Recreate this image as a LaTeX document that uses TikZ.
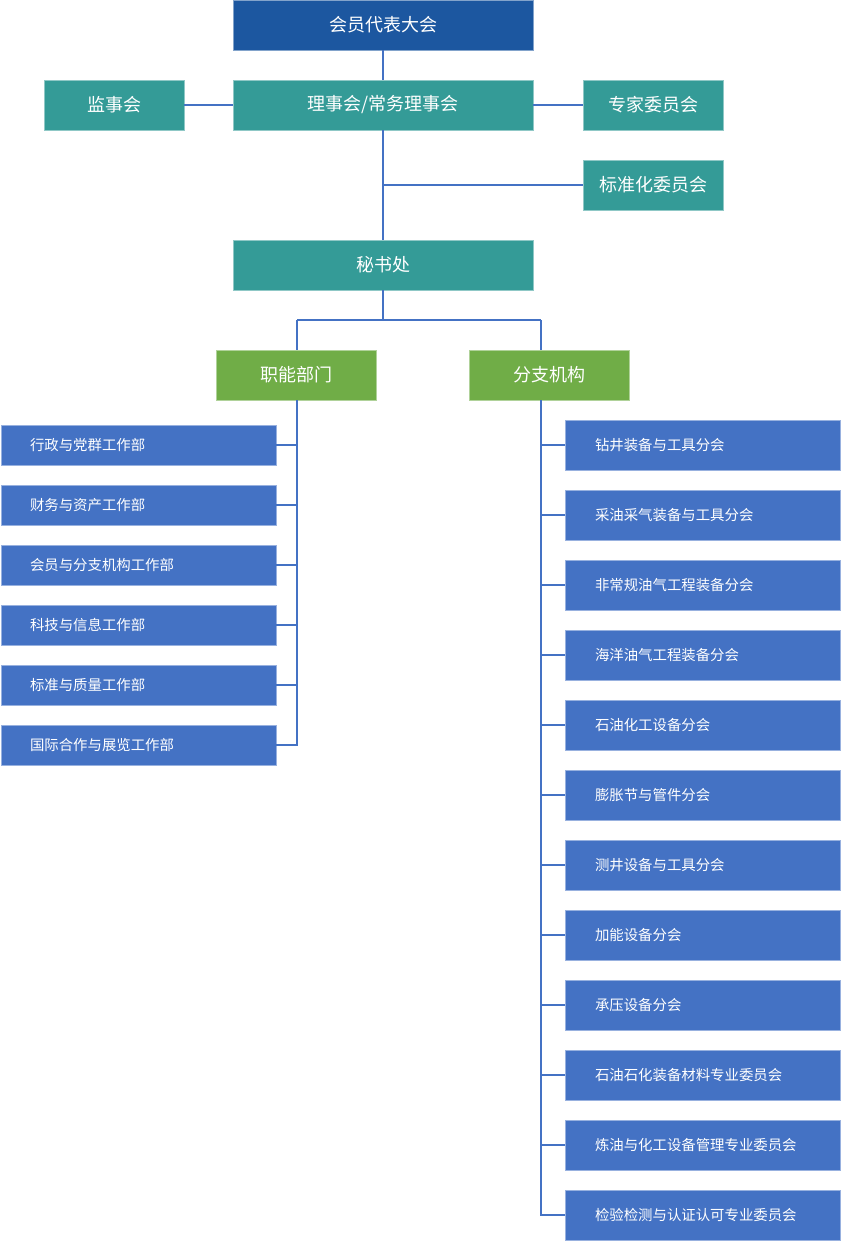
\documentclass[tikz,border=0pt]{standalone}
\usepackage{fontspec}
\setmainfont{Noto Sans CJK SC}
\definecolor{darkblue}{HTML}{1C57A0}
\definecolor{teal2}{HTML}{349B97}
\definecolor{green2}{HTML}{70AD47}
\definecolor{blue2}{HTML}{4472C4}
\tikzset{
  box/.style={draw=#1!55!white, line width=0.8pt, fill=#1, text=white, inner sep=0pt},
  topbox/.style={box=#1, font=\fontsize{18}{21}\selectfont},
  subbox/.style={box=blue2, font=\fontsize{14.4}{17}\selectfont},
  link/.style={draw=blue2, line width=2pt}
}
\begin{document}
\begin{tikzpicture}[x=1pt,y=-1pt]
\useasboundingbox (0,0) rectangle (840,1241);
% top level
\node[topbox=darkblue, minimum width=300pt, minimum height=50pt] (gm) at (383,25) {会员代表大会};
\node[topbox=teal2, minimum width=300pt, minimum height=50pt] (board) at (383,105) {理事会/常务理事会};
\node[topbox=teal2, minimum width=140pt, minimum height=50pt] (sup) at (114,105) {监事会};
\node[topbox=teal2, minimum width=140pt, minimum height=50pt] (exp) at (653,105) {专家委员会};
\node[topbox=teal2, minimum width=140pt, minimum height=50pt] (std) at (653,185) {标准化委员会};
\node[topbox=teal2, minimum width=300pt, minimum height=50pt] (sec) at (383,265) {秘书处};
\node[topbox=green2, minimum width=160pt, minimum height=50pt] (func) at (296,375) {职能部门};
\node[topbox=green2, minimum width=160pt, minimum height=50pt] (branch) at (549,375) {分支机构};
\coordinate (stdj) at (383,185);
\coordinate (busL) at (297,320);
\coordinate (busR) at (541,320);
\coordinate (busM) at (383,320);
\draw[link] (gm.south) -- (board.north);
\draw[link] (sup.east) -- (board.west);
\draw[link] (board.east) -- (exp.west);
\draw[link] (board.south) -- (sec.north);
\draw[link] (stdj) -- (std.west);
\draw[link] (sec.south) -- (busM);
\draw[link] (busL) -- (busR);
\draw[link] (busL) -- (297,350);
\draw[link] (busR) -- (541,350);
% left departments
\foreach \t [count=\i] in {行政与党群工作部,财务与资产工作部,会员与分支机构工作部,科技与信息工作部,标准与质量工作部,国际合作与展览工作部}{
  \pgfmathsetmacro{\yy}{445+60*(\i-1)}
  \node[subbox, minimum width=275pt, minimum height=40pt, text width=217pt, align=left] (L\i) at (138.5,\yy) {\t};
  \coordinate (LJ\i) at (297,\yy);
  \draw[link] (L\i.east) -- (LJ\i);
}
\draw[link] (297,400) -- (297,746);
% right branches
\foreach \t [count=\i] in {钻井装备与工具分会,采油采气装备与工具分会,非常规油气工程装备分会,海洋油气工程装备分会,石油化工设备分会,膨胀节与管件分会,测井设备与工具分会,加能设备分会,承压设备分会,石油石化装备材料专业委员会,炼油与化工设备管理专业委员会,检验检测与认证认可专业委员会}{
  \pgfmathsetmacro{\yy}{445+70*(\i-1)}
  \node[subbox, minimum width=275pt, minimum height=50pt, text width=215pt, align=left] (R\i) at (702.5,\yy) {\t};
  \coordinate (RJ\i) at (541,\yy);
  \draw[link] (RJ\i) -- (R\i.west);
}
\draw[link] (541,400) -- (541,1216);
\end{tikzpicture}
\end{document}
